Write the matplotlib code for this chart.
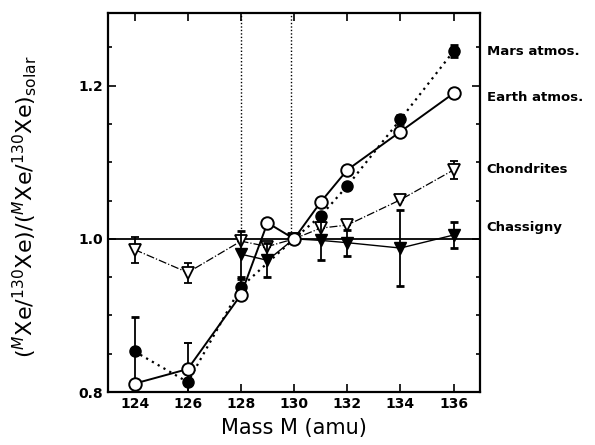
import numpy as np
import matplotlib
matplotlib.use('Agg')
import matplotlib.pyplot as plt
from matplotlib.ticker import MultipleLocator

# Xe isotope ratios normalised to 130Xe and solar
earth_mass = [124, 126, 128, 129, 130, 131, 132, 134, 136]
earth_val = [0.811, 0.830, 0.927, 1.021, 1.000, 1.048, 1.090, 1.140, 1.190]
earth_err = [0, 0.034, 0, 0, 0, 0, 0, 0, 0]

mars_mass = [124, 126, 128, 130, 131, 132, 134, 136]
mars_val = [0.853, 0.813, 0.937, 1.000, 1.030, 1.069, 1.156, 1.245]
mars_err = [0.045, 0, 0.01, 0, 0, 0, 0.006, 0.008]

chond_mass = [124, 126, 128, 129, 130, 131, 132, 134, 136]
chond_val = [0.986, 0.956, 0.997, 0.990, 1.000, 1.014, 1.018, 1.051, 1.090]
chond_err = [0.017, 0.013, 0, 0, 0, 0, 0, 0, 0.012]

chass_mass = [128, 129, 130, 131, 132, 134, 136]
chass_val = [0.980, 0.972, 1.000, 0.998, 0.995, 0.988, 1.005]
chass_err = [0.03, 0.022, 0, 0.025, 0.017, 0.05, 0.017]
chass_low_mass = [124]
chass_low_val = [0.806]

guide_mass = [128, 129.9]
labels = ['Mars atmos.', 'Earth atmos.', 'Chondrites', 'Chassigny']
label_y = [1.245, 1.185, 1.09, 1.015]

fig = plt.figure(figsize=(5.95, 4.45), dpi=100)
ax = fig.add_axes([0.1815, 0.119, 0.6255, 0.852])

ax.axhline(1.0, color='black', lw=1.3, zorder=1)
for gx in guide_mass:
    ax.plot([gx, gx], [1.0, 1.3], color='black', lw=1.0, ls=(0, (1, 1.5)), zorder=1)

ax.errorbar(chond_mass, chond_val, yerr=chond_err, color='black', lw=0.9, ls='-.',
            marker='v', ms=8, mfc='white', mec='black', mew=1.3,
            ecolor='black', elinewidth=1.3, capsize=3, capthick=2, zorder=3)
ax.errorbar(chass_mass, chass_val, yerr=chass_err, color='black', lw=1.0, ls='-',
            marker='v', ms=8, mfc='black', mec='black',
            ecolor='black', elinewidth=1.3, capsize=3, capthick=2, zorder=4)
ax.plot(chass_low_mass, chass_low_val, ls='none', marker='v', ms=7, color='black', zorder=4)
ax.errorbar(mars_mass, mars_val, yerr=mars_err, color='black', lw=1.6, ls=(0, (1, 2)),
            marker='o', ms=8, mfc='black', mec='black',
            ecolor='black', elinewidth=1.3, capsize=3, capthick=2, zorder=5)
ax.errorbar(earth_mass, earth_val, yerr=earth_err, color='black', lw=1.4, ls='-',
            marker='o', ms=9, mfc='white', mec='black', mew=1.4,
            ecolor='black', elinewidth=1.3, capsize=3, capthick=2, zorder=6)

ax.set_xlim(123, 137)
ax.set_ylim(0.8, 1.295)
ax.set_xticks([124, 126, 128, 130, 132, 134, 136])
ax.set_yticks([0.8, 1.0, 1.2])
ax.set_yticklabels(['0.8', '1.0', '1.2'])
ax.yaxis.set_minor_locator(MultipleLocator(0.05))
ax.tick_params(which='both', direction='in', top=True, right=True, width=1.2)
ax.tick_params(which='major', length=6, labelsize=10)
ax.tick_params(which='minor', length=3)
for lab in ax.get_xticklabels() + ax.get_yticklabels():
    lab.set_fontweight('bold')
for sp in ax.spines.values():
    sp.set_linewidth(1.6)

ax.set_xlabel('Mass M (amu)', fontsize=15, labelpad=5)
ax.set_ylabel(r'$(^{M}\mathrm{Xe}/^{130}\mathrm{Xe})/(^{M}\mathrm{Xe}/^{130}\mathrm{Xe})_{\mathrm{solar}}$',
              fontsize=16)
ax.yaxis.set_label_coords(-0.185, 0.49)

for txt, yy in zip(labels, label_y):
    ax.text(137.25, yy, txt, fontsize=9.5, fontweight='bold', va='center', ha='left',
            clip_on=False)

fig.savefig('out.png', dpi=100)
